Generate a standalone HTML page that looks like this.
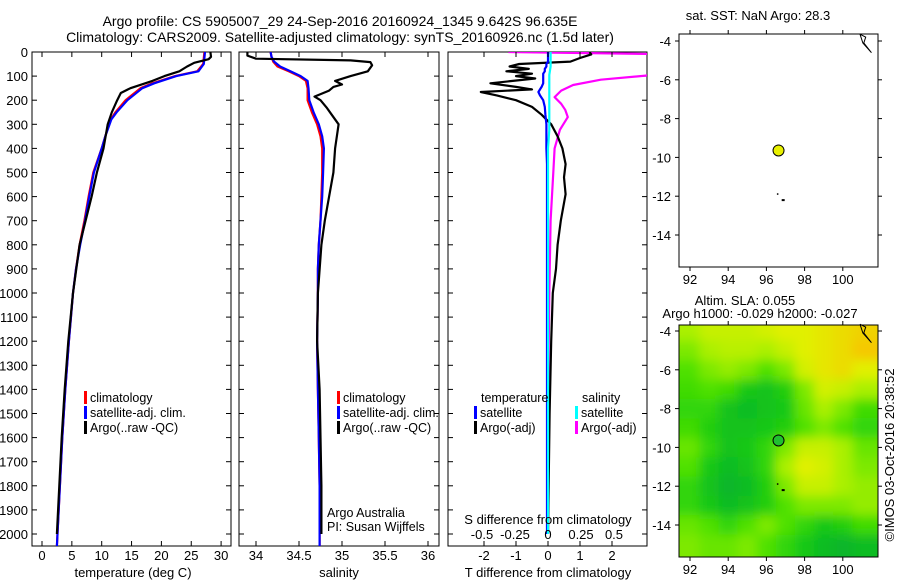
<!DOCTYPE html>
<html><head><meta charset="utf-8"><style>
body{margin:0;background:#fff;}
svg{display:block;font-family:"Liberation Sans",sans-serif;}
text{font-size:13px;fill:#000;}
</style></head><body>
<svg id="c" width="900" height="580" viewBox="0 0 900 580" xmlns="http://www.w3.org/2000/svg">
<defs>
<clipPath id="cp1"><rect x="32" y="52" width="199" height="494"/></clipPath>
<clipPath id="cp2"><rect x="239" y="52" width="200" height="494"/></clipPath>
<clipPath id="cp3"><rect x="448" y="52" width="199" height="494"/></clipPath>
<clipPath id="cpm"><rect x="679" y="325" width="199" height="232"/></clipPath>
<filter id="blur" x="-10%" y="-10%" width="120%" height="120%"><feGaussianBlur stdDeviation="5.5"/></filter>
</defs>
<text x="340" y="26" text-anchor="middle" style="font-size:14px">Argo profile: CS 5905007_29 24-Sep-2016 20160924_1345 9.642S 96.635E</text>
<text x="340" y="42" text-anchor="middle" style="font-size:14px">Climatology: CARS2009. Satellite-adjusted climatology: synTS_20160926.nc (1.5d later)</text>
<g id="g"></g>
</svg>
<script>
// ---------- data ----------
const depthTicks=[0,100,200,300,400,500,600,700,800,900,1000,1100,1200,1300,1400,1500,1600,1700,1800,1900,2000];
const tTicks=[0,5,10,15,20,25,30];
const sTicks=[34,34.5,35,35.5,36];
const sTickLabels=["34","34.5","35","35.5","36"];
const dTTicks=[-2,-1,0,1,2];
const dSTicks=[-0.5,-0.25,0,0.25,0.5];
const dSTickLabels=["-0.5","-0.25","0","0.25","0.5"];

const climTdepth=[0,50,80,100,130,150,200,250,280,350,400,500,600,700,800,900,1000,1200,1400,1600,1800,2000,2050];
const climT=[27.2,27.0,26.0,22.3,18.5,16.5,14.0,12.3,11.5,10.6,10.0,8.6,7.8,7.1,6.3,5.7,5.2,4.5,3.9,3.4,3.0,2.6,2.5];
const satT=[27.3,27.1,26.2,22.5,18.8,16.8,14.3,12.5,11.6,10.6,10.0,8.7,7.9,7.2,6.4,5.7,5.2,4.5,3.9,3.4,3.0,2.6,2.5];
const argoTdepth=[0,20,30,45,60,80,100,120,150,170,200,250,300,400,500,600,700,800,1000,1200,1400,1600,1800,2000];
const argoT=[28.2,28.3,27.9,25.5,24.3,23.0,20.5,18.5,14.8,13.2,12.6,11.7,11.0,10.3,9.2,8.3,7.3,6.3,5.2,4.4,3.8,3.3,2.9,2.5];

const climSdepth=[0,20,40,60,80,100,120,150,200,250,300,350,400,500,600,700,800,900,1000,1200,1400,1600,1800,2000,2050];
const climS=[34.17,34.18,34.2,34.25,34.38,34.5,34.58,34.6,34.6,34.65,34.71,34.75,34.77,34.77,34.76,34.75,34.73,34.72,34.72,34.71,34.72,34.73,34.74,34.74,34.74];
const satS=[34.17,34.18,34.21,34.28,34.4,34.52,34.6,34.61,34.62,34.67,34.73,34.77,34.79,34.78,34.77,34.75,34.73,34.72,34.72,34.71,34.72,34.73,34.74,34.74,34.74];
const argoSdepth=[0,15,28,35,42,55,80,100,120,135,145,160,185,200,230,260,300,400,500,600,700,800,1000,1200,1400,1600,1800,2000];
const argoS=[33.9,33.9,34.0,35.1,35.33,35.35,35.3,35.1,34.92,35.0,34.9,34.85,34.68,34.75,34.82,34.88,34.96,34.92,34.9,34.85,34.8,34.76,34.72,34.71,34.74,34.75,34.76,34.76];

const dTdepth=[0,10,25,40,50,60,70,80,90,100,110,120,130,145,155,166,180,200,228,260,300,350,400,465,520,590,700,800,900,1000,1200,1500,2000];
const argoDT=[1.3,1.35,1.0,0.7,-0.9,-1.2,-0.6,-1.3,-0.5,-1.0,-0.4,-1.1,-1.8,-1.0,-0.5,-2.1,-1.6,-1.0,-0.5,-0.2,0.1,0.3,0.45,0.55,0.5,0.55,0.4,0.3,0.25,0.15,0.1,0.05,0.0];
const satDT=[0,0,0,0,-0.05,-0.05,-0.1,-0.1,-0.15,-0.15,-0.15,-0.15,-0.15,-0.2,-0.25,-0.3,-0.25,-0.15,-0.1,-0.08,-0.05,-0.05,-0.05,-0.03,-0.03,-0.03,-0.03,-0.03,-0.03,-0.03,-0.03,-0.03,-0.03];
const dSdepth=[0,10,33,60,95,115,137,160,187,215,240,270,323,400,500,700,1000,1500,2000];
const argoDS=[-0.3,1.0,1.0,1.0,0.8,0.4,0.19,0.1,0.05,0.1,0.13,0.15,0.09,0.05,0.04,0.02,0.01,0.0,0.0];
const satDS=[0.02,0.02,0.02,0.02,0.01,0.01,0.01,0.01,0.01,0.01,0.01,0.01,0.01,0.0,0.0,0.0,0.0,0.0,0.0];

const mapLons=[92,93,94,95,96,97,98,99,100,101];
const mapLats=[-4,-5,-6,-7,-8,-9,-10,-11,-12,-13,-14,-15];
const slaGrid=[
[0.6,0.7,0.7,0.7,0.75,0.8,0.8,0.85,0.9,0.95],
[0.5,0.6,0.65,0.65,0.6,0.7,0.8,0.85,0.9,1.0],
[0.4,0.5,0.55,0.5,0.4,0.5,0.75,0.85,0.9,0.8],
[0.35,0.4,0.35,0.2,0.15,0.25,0.5,0.75,0.7,0.6],
[0.3,0.3,0.15,0.1,0.15,0.2,0.45,0.6,0.5,0.35],
[0.35,0.25,0.15,0.15,0.2,0.25,0.4,0.5,0.4,0.3],
[0.45,0.3,0.15,0.2,0.3,0.5,0.7,0.7,0.6,0.45],
[0.4,0.2,0.1,0.15,0.3,0.6,0.8,0.75,0.6,0.5],
[0.3,0.15,0.05,0.1,0.25,0.5,0.7,0.7,0.6,0.55],
[0.3,0.2,0.1,0.15,0.25,0.4,0.5,0.5,0.5,0.55],
[0.45,0.4,0.3,0.4,0.5,0.4,0.3,0.2,0.25,0.35],
[0.5,0.45,0.45,0.5,0.4,0.3,0.2,0.1,0.05,0.1]];
const lonTicks=[92,94,96,98,100];
const latTicks=[-4,-6,-8,-10,-12,-14];
const argoLon=96.635, argoLat=-9.642;

// ---------- helpers ----------
const NS="http://www.w3.org/2000/svg";
const G=document.getElementById('g');
function mk(tag,attrs,parent){const e=document.createElementNS(NS,tag);for(const k in attrs)e.setAttribute(k,attrs[k]);(parent||G).appendChild(e);return e;}
function txt(x,y,s,anchor,parent,size){const e=mk('text',{x:x,y:y,'text-anchor':anchor||'start'},parent);if(size)e.style.fontSize=size+'px';e.textContent=s;return e;}
const yD=d=>52+d*0.241;

function panel(name,x0,x1,xs,clip){
  const g=mk('g',{});
  
  
  const r=mk('rect',{x:x0,y:52,width:x1-x0,height:494,fill:'none',stroke:'#000','stroke-width':1},g);
  
  
  depthTicks.forEach(d=>{const y=yD(d);mk('line',{x1:x0,x2:x0+5,y1:y,y2:y,stroke:'#000'},g);mk('line',{x1:x1,x2:x1-5,y1:y,y2:y,stroke:'#000'},g);});
  const lg=mk('g',{'clip-path':'url(#'+clip+')'},g);
  return {g:g,lg:lg,x0:x0,x1:x1,xs:xs};
}
function xTicks(p,vals,labels,ly){
  vals.forEach((v,i)=>{const x=p.xs(v);mk('line',{x1:x,x2:x,y1:546,y2:541,stroke:'#000'},p.g);mk('line',{x1:x,x2:x,y1:52,y2:57,stroke:'#000'},p.g);
    if(labels){const t=txt(x,ly,labels[i],'middle',p.g);}});
}
function line(p,ds,vs,xs,color,name,w){
  const pts=ds.map((d,i)=>xs(vs[i]).toFixed(1)+','+yD(d).toFixed(1)).join(' ');
  const e=mk('polyline',{points:pts,fill:'none',stroke:color,'stroke-width':w||2.2,'stroke-linejoin':'round'},p.lg);
  
  
}
function legend(p,items,x,y){
  items.forEach((it,i)=>{const yy=y+i*15;mk('rect',{x:x,y:yy-11,width:3,height:13,fill:it[1]},p.g);
    const t=txt(x+6,yy,it[0],'start',p.g,12.5);});
}

// depth labels
depthTicks.forEach(d=>{const t=txt(28,yD(d)+5,String(d),'end');});

// panel 1 temperature
const xT=v=>42+v*5.97;
const p1=panel('temperature-panel',32,231,xT,'cp1');
xTicks(p1,tTicks,tTicks.map(String),560);
line(p1,climTdepth,climT,xT,'#f00','climatology-temperature-line');
line(p1,climTdepth,satT,xT,'#00f','satellite-temperature-line');
line(p1,argoTdepth,argoT,xT,'#000','argo-temperature-line');
legend(p1,[['climatology','#f00'],['satellite-adj. clim.','#00f'],['Argo(..raw -QC)','#000']],84,402);
txt(133,577,'temperature (deg C)','middle');

// panel 2 salinity
const xS=v=>256+(v-34)*86;
const p2=panel('salinity-panel',239,439,xS,'cp2');
xTicks(p2,sTicks,sTickLabels,560);
line(p2,climSdepth,climS,xS,'#f00','climatology-salinity-line');
line(p2,climSdepth,satS,xS,'#00f','satellite-salinity-line');
line(p2,argoSdepth,argoS,xS,'#000','argo-salinity-line');
legend(p2,[['climatology','#f00'],['satellite-adj. clim.','#00f'],['Argo(..raw -QC)','#000']],337,402);
txt(327,517,'Argo Australia','start',p2.g,12.5);
txt(327,531,'PI: Susan Wijffels','start',p2.g,12.5);
txt(339,577,'salinity','middle');

// panel 3 differences
const xdT=v=>548+v*32;
const xdS=v=>548+v*132;
const p3=panel('difference-panel',448,647,xdT,'cp3');
xTicks(p3,dTTicks,dTTicks.map(String),560);
dSTicks.forEach((v,i)=>{const t=txt(xdS(v),539,dSTickLabels[i],'middle',p3.g);});
line(p3,dSdepth,argoDS,xdS,'#f0f','argo-salinity-diff-line');
line(p3,dTdepth,argoDT,xdT,'#000','argo-temperature-diff-line');
line(p3,dTdepth,satDT,xdT,'#00f','satellite-temperature-diff-line');
line(p3,dSdepth,satDS,xdS,'#0ff','satellite-salinity-diff-line');
txt(481,402,'temperature','start',p3.g,12.5);
txt(582,402,'salinity','start',p3.g,12.5);
legend(p3,[['satellite','#00f'],['Argo(-adj)','#000']],474,417);
legend(p3,[['satellite','#0ff'],['Argo(-adj)','#f0f']],575,417);
txt(548,524,'S difference from climatology','middle',p3.g);
txt(548,577,'T difference from climatology','middle');

// ---------- maps ----------
const mx=lon=>690+(lon-92)*19.1;
function mapAxes(name,top,bottom,lat0y){
  const my=lat=>lat0y+(-4-lat)*19.4;
  const g=mk('g',{});
  
  
  return {g:g,my:my,top:top,bottom:bottom};
}
function mapFrame(m){
  const r=mk('rect',{x:679,y:m.top,width:199,height:m.bottom-m.top,fill:'none',stroke:'#000'},m.g);
  lonTicks.forEach(l=>{const x=mx(l);mk('line',{x1:x,x2:x,y1:m.top,y2:m.top-4,stroke:'#000'},m.g);mk('line',{x1:x,x2:x,y1:m.bottom,y2:m.bottom+4,stroke:'#000'},m.g);
    const t=txt(x,m.bottom+17,String(l),'middle',m.g);});
  latTicks.forEach(l=>{const y=m.my(l);mk('line',{x1:679,x2:675,y1:y,y2:y,stroke:'#000'},m.g);mk('line',{x1:878,x2:882,y1:y,y2:y,stroke:'#000'},m.g);
    const t=txt(671,y+5,String(l),'end',m.g);});
  const cx=mk('path',{d:`M${mx(100.9)},${m.my(-3.65)} L${mx(101.05)},${m.my(-4.1)} L${mx(101.5)},${m.my(-4.6)} L${mx(101.1)},${m.my(-4.1)} L${mx(101.2)},${m.my(-3.8)} L${mx(100.9)},${m.my(-3.65)}`,fill:'none',stroke:'#000','stroke-width':1},m.g);
  
  mk('rect',{x:mx(96.55),y:m.my(-11.85),width:1.5,height:1.5,fill:'#000'},m.g);
  mk('rect',{x:mx(96.8),y:m.my(-12.15),width:3,height:2,fill:'#000'},m.g);
}
function ramp(v){
  const stops=[[0,[10,175,50]],[0.2,[20,200,20]],[0.4,[80,225,0]],[0.6,[170,240,0]],[0.8,[225,240,0]],[1,[245,200,0]]];
  for(let i=1;i<stops.length;i++){if(v<=stops[i][0]){const a=stops[i-1],b=stops[i],t=(v-a[0])/(b[0]-a[0]);return 'rgb('+a[1].map((c,k)=>Math.round(c+(b[1][k]-c)*t)).join(',')+')';}}
  return 'rgb(245,200,0)';
}
// map 1 SST
const m1=mapAxes('sst-map',34,267,41);
txt(758,20,'sat. SST: NaN Argo: 28.3','middle',m1.g);
mapFrame(m1);
const c1=mk('circle',{cx:mx(argoLon),cy:m1.my(argoLat),r:5.5,fill:'#e8f000',stroke:'#000'},m1.g);



// map 2 SLA
const m2=mapAxes('sla-map',325,557,331);
txt(745,305,'Altim. SLA: 0.055','middle',m2.g);
txt(760,318,'Argo h1000: -0.029 h2000: -0.027','middle',m2.g);
const hg=mk('g',{'clip-path':'url(#cpm)'},m2.g);


mk('rect',{x:679,y:325,width:199,height:232,fill:ramp(0.45)},hg);
const hb=mk('g',{filter:'url(#blur)'},hg);
mapLats.forEach((la,i)=>mapLons.forEach((lo,j)=>{
  const c=mk('rect',{x:mx(lo-0.5)-(j==0?15:0),y:m2.my(la+0.5)-(i==0?15:0),width:19.1+(j==0||j==mapLons.length-1?15:0)+1,height:19.4+(i==0||i==mapLats.length-1?15:0)+1,fill:ramp(slaGrid[i][j])},hb);
  
  
}));
mapFrame(m2);
const c2=mk('circle',{cx:mx(argoLon),cy:m2.my(argoLat),r:5.5,fill:'#20c030',stroke:'#000'},m2.g);


const cr=txt(0,0,'©IMOS 03-Oct-2016 20:38:52','middle');
cr.setAttribute('transform','translate(894,455) rotate(-90)');


</script>
</body></html>
